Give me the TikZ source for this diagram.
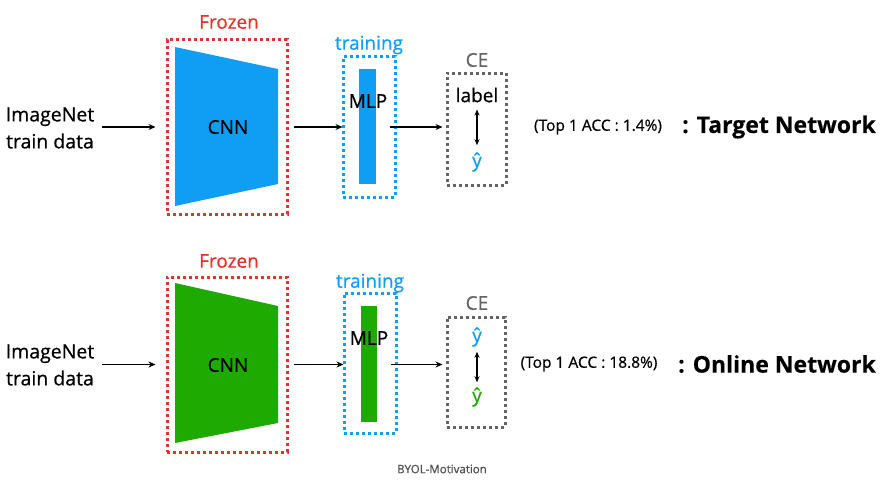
\documentclass[tikz,border=0pt]{standalone}
\usepackage{fontspec}
\setmainfont{Open Sans}[UprightFeatures={FakeBold=0.6}, BoldFont={Open Sans Bold}, BoldFeatures={FakeBold=0.3}]
\usetikzlibrary{arrows.meta}
\definecolor{cblue}{RGB}{16,158,245}
\definecolor{cgreen}{RGB}{30,170,0}
\definecolor{cred}{RGB}{232,50,40}
\definecolor{cgray}{RGB}{100,100,100}
\tikzset{
  dotbox/.style={draw, line width=3pt, dash pattern=on 3pt off 3pt, minimum width=#1, inner sep=0pt},
  arr/.style={-{Stealth[length=7pt,width=6pt]}, line width=1.4pt},
  darr/.style={{Stealth[length=6pt,width=5pt]}-{Stealth[length=6pt,width=5pt]}, line width=1.4pt},
  lbl/.style={font=\fontsize{19}{22}\selectfont, inner sep=0pt},
  inp/.style={font=\fontsize{19.5}{27}\selectfont, align=center, inner sep=0pt},
  acc/.style={font=\fontsize{15.5}{16}\selectfont, inner sep=0pt},
  net/.style={font=\bfseries\fontsize{23}{28}\selectfont, inner sep=0pt},
}
\begin{document}
\begin{tikzpicture}[x=1pt,y=-1pt]
\useasboundingbox[fill=white] (0,0) rectangle (893,487);
% ===== top row =====
\node[inp] (in1) at (50,128) {ImageNet\\train data};
\node[dotbox=120pt, minimum height=174pt, cred] (fr1) at (227,127) {};
\node[lbl, cred] (frl1) at (229,22) {Frozen};
\fill[cblue] (175,47) -- (278,69) -- (278,184) -- (175,206) -- cycle;
\node[lbl] (cnn1) at (228,127) {CNN};
\node[dotbox=52pt, minimum height=140pt, cblue] (tr1) at (369,127) {};
\node[lbl, cblue] (trl1) at (369,45) {training};
\fill[cblue] (359,69) rectangle (376,184);
\node[lbl] (mlp1) at (368,101) {MLP};
\node[dotbox=59pt, minimum height=112pt, cgray] (ce1) at (476.5,129) {};
\node[lbl, cgray] (cel1) at (477,60) {CE};
\node[lbl] (lab1) at (477,95) {label};
\node[lbl, cblue] (yh1) at (477,162) {ŷ};
\node[acc] (acc1) at (598,127) {(Top 1 ACC : 1.4\%)};
\node[net, anchor=west] (net1) at (682,127) {: Target Network};
\draw[arr] ([xshift=8pt]in1.east |- fr1.west) -- ([xshift=-10pt]fr1.west);
\draw[arr] ([xshift=5pt]fr1.east) -- ([xshift=1pt]tr1.west);
\draw[arr] ([xshift=-7pt]tr1.east) -- ([xshift=-3pt]ce1.west |- tr1.east);
\draw[darr] ([yshift=-7pt]lab1.south) -- ([yshift=7pt]yh1.north);
% ===== bottom row =====
\node[inp] (in2) at (50,365) {ImageNet\\train data};
\node[dotbox=120pt, minimum height=175pt, cred] (fr2) at (227,364.5) {};
\node[lbl, cred] (frl2) at (229,261) {Frozen};
\fill[cgreen] (175,283) -- (278,306) -- (278,423) -- (175,443) -- cycle;
\node[lbl] (cnn2) at (228,365) {CNN};
\node[dotbox=52pt, minimum height=140pt, cblue] (tr2) at (370,363) {};
\node[lbl, cblue] (trl2) at (370,283) {training};
\fill[cgreen] (361,306) rectangle (377,422);
\node[lbl] (mlp2) at (369,338) {MLP};
\node[dotbox=58pt, minimum height=110pt, cgray] (ce2) at (476,372) {};
\node[lbl, cgray] (cel2) at (477,303) {CE};
\node[lbl, cblue] (yb2) at (477,337) {ŷ};
\node[lbl, cgreen] (yg2) at (477,397) {ŷ};
\node[acc] (acc2) at (589,364) {(Top 1 ACC : 18.8\%)};
\node[net, anchor=west] (net2) at (678,364) {: Online Network};
\draw[arr] ([xshift=8pt]in2.east |- fr2.west) -- ([xshift=-10pt]fr2.west);
\draw[arr] ([xshift=5pt]fr2.east) -- ([xshift=1pt]tr2.west |- fr2.east);
\draw[arr] ([xshift=-7pt]tr2.east |- fr2.east) -- ([xshift=-3pt]ce2.west |- fr2.east);
\draw[darr] ([yshift=-5pt]yb2.south) -- ([yshift=5pt]yg2.north);
% caption
\node[font=\fontsize{11.5}{14}\selectfont, text=cgray!80!black] (cap) at (442,469) {BYOL-Motivation};
\end{tikzpicture}
\end{document}
